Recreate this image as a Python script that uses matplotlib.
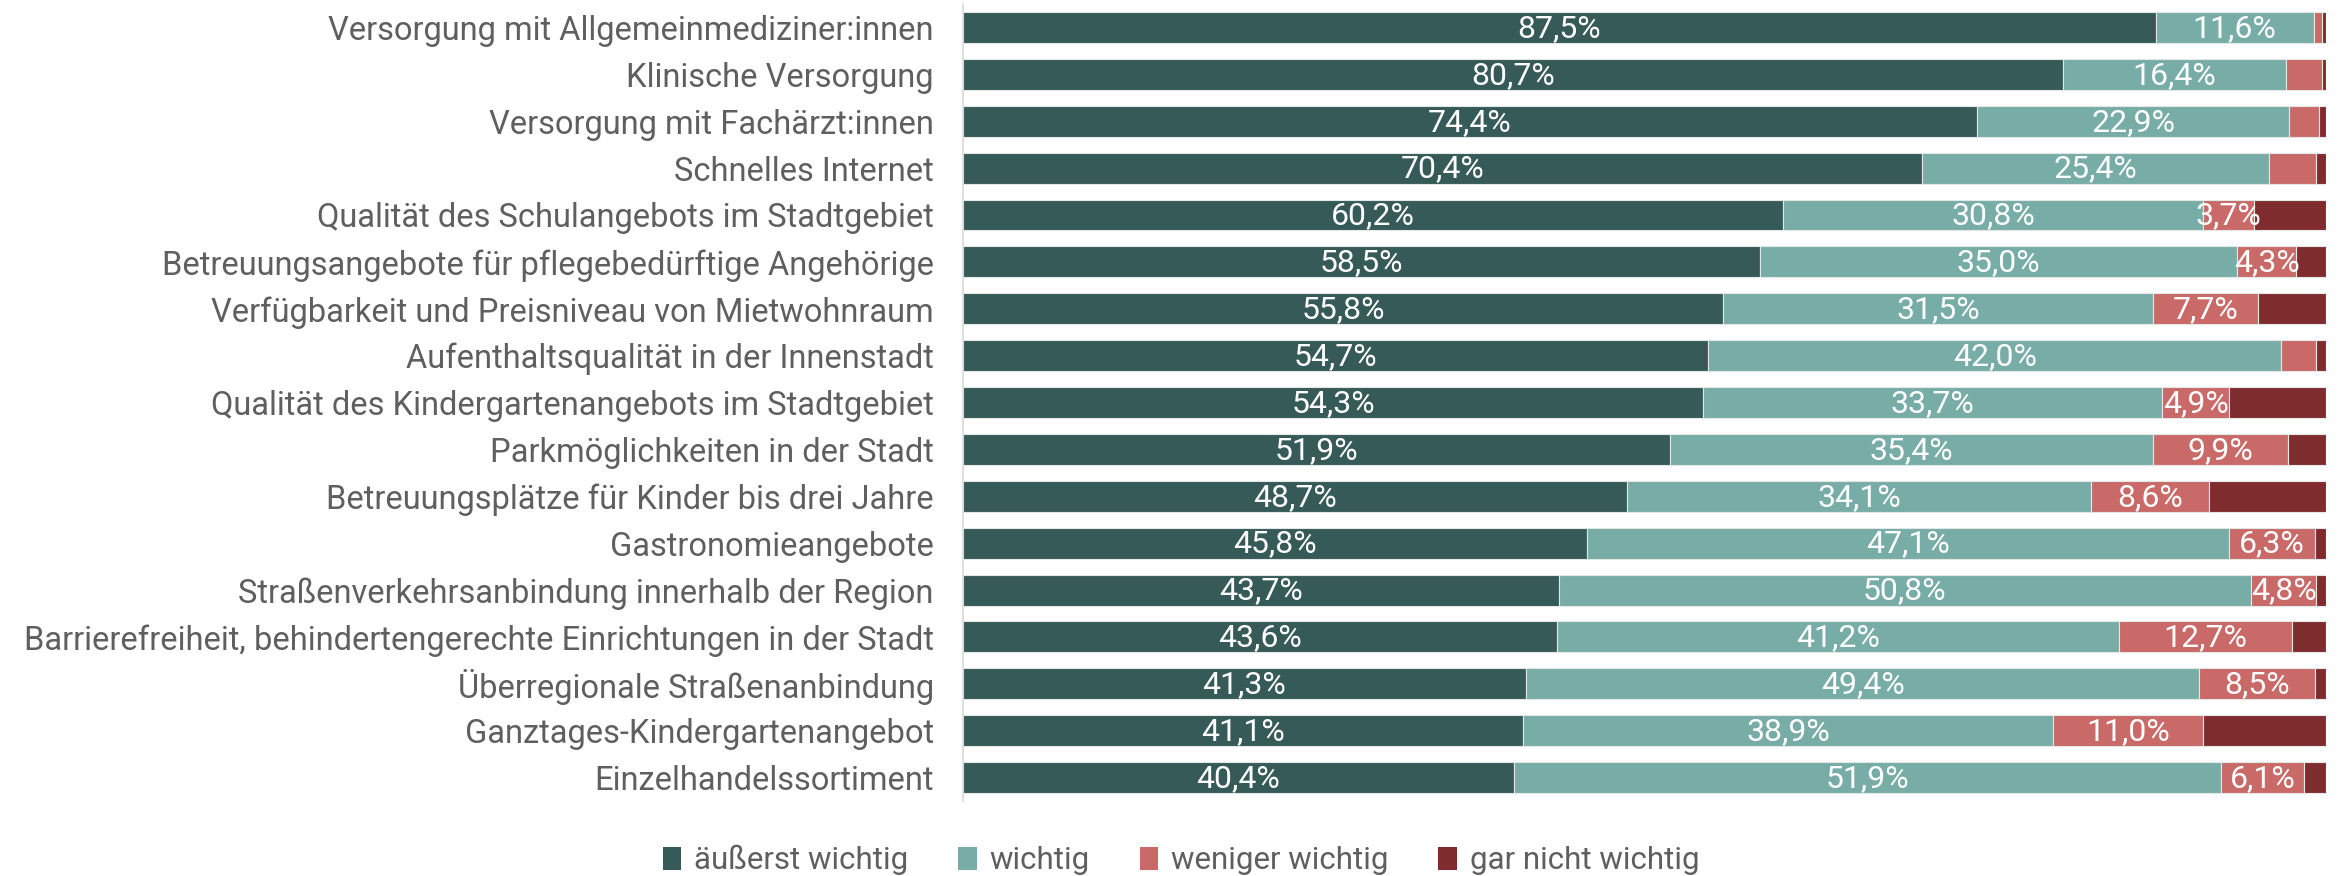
import matplotlib
matplotlib.use("Agg")
import matplotlib.pyplot as plt
from matplotlib.patches import Patch
import numpy as np

categories = [
    "Versorgung mit Allgemeinmediziner:innen",
    "Klinische Versorgung",
    "Versorgung mit Fachärzt:innen",
    "Schnelles Internet",
    "Qualität des Schulangebots im Stadtgebiet",
    "Betreuungsangebote für pflegebedürftige Angehörige",
    "Verfügbarkeit und Preisniveau von Mietwohnraum",
    "Aufenthaltsqualität in der Innenstadt",
    "Qualität des Kindergartenangebots im Stadtgebiet",
    "Parkmöglichkeiten in der Stadt",
    "Betreuungsplätze für Kinder bis drei Jahre",
    "Gastronomieangebote",
    "Straßenverkehrsanbindung innerhalb der Region",
    "Barrierefreiheit, behindertengerechte Einrichtungen in der Stadt",
    "Überregionale Straßenanbindung",
    "Ganztages-Kindergartenangebot",
    "Einzelhandelssortiment",
]

series_names = ["äußerst wichtig", "wichtig", "weniger wichtig", "gar nicht wichtig"]

aeusserst = [87.5, 80.7, 74.4, 70.4, 60.2, 58.5, 55.8, 54.7, 54.3, 51.9, 48.7, 45.8, 43.7, 43.6, 41.3, 41.1, 40.4]
wichtig = [11.6, 16.4, 22.9, 25.4, 30.8, 35.0, 31.5, 42.0, 33.7, 35.4, 34.1, 47.1, 50.8, 41.2, 49.4, 38.9, 51.9]
weniger = [0.6, 2.6, 2.2, 3.5, 3.7, 4.3, 7.7, 2.6, 4.9, 9.9, 8.6, 6.3, 4.8, 12.7, 8.5, 11.0, 6.1]
gar_nicht = [0.3, 0.3, 0.5, 0.7, 5.3, 2.2, 5.0, 0.7, 7.1, 2.8, 8.6, 0.8, 0.7, 2.5, 0.8, 9.0, 1.6]

colors = ["#365a57", "#77ada6", "#c96a68", "#7f2c2e"]
show_labels = [True, True, True, False]
label_min = 3.7

FONT = ["Roboto", "DejaVu Sans"]

fig = plt.figure(figsize=(23.43, 8.76), dpi=100)
ax = fig.add_axes([0.411, 0.0856, 0.5817, 0.9098])

y = np.arange(len(categories))
data = [aeusserst, wichtig, weniger, gar_nicht]
left = np.zeros(len(categories))
for vals, col, name, lab in zip(data, colors, series_names, show_labels):
    vals = np.array(vals)
    ax.barh(y, vals, left=left, height=0.66, color=col,
            edgecolor="#e3e8e7", linewidth=0.8, label=name)
    if lab:
        for yi, l, v in zip(y, left, vals):
            if v >= label_min:
                ax.text(l + v / 2, yi + 0.02, f"{v:.1f}%".replace(".", ","),
                        ha="center", va="center", color="white",
                        fontsize=23, family=FONT)
    left += vals

ax.set_xlim(0, 100)
ax.set_ylim(len(categories) - 0.5, -0.5)
ax.set_yticks(y)
ax.set_yticklabels(categories, fontsize=23.5, color="#5f5f5f", family=FONT)
ax.tick_params(axis="y", length=0, pad=21)
ax.set_xticks([])
for s in ["top", "right", "bottom"]:
    ax.spines[s].set_visible(False)
ax.spines["left"].set_color("#d9d9d9")
ax.spines["left"].set_linewidth(1.2)

handles = [Patch(facecolor=c, edgecolor="none") for c in colors]
fig.legend(handles, series_names, loc="center", bbox_to_anchor=(0.504, 0.018),
           ncol=4, frameon=False, handlelength=0.6, handleheight=0.75,
           handletextpad=0.4, columnspacing=1.6,
           prop={"family": FONT, "size": 22.5},
           labelcolor="#5f5f5f")

fig.savefig("out.png", dpi=100)
